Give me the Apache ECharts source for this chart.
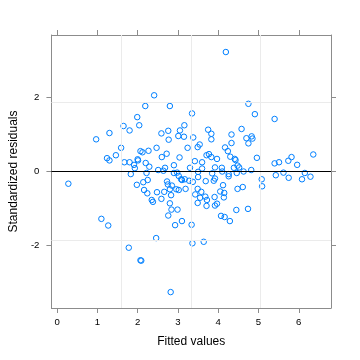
<!DOCTYPE html>
<html>
<head>
<meta charset="utf-8">
<script src="https://cdn.jsdelivr.net/npm/echarts@6/dist/echarts.min.js"></script>
<style>
html,body{margin:0;padding:0;background:#fff;}
#chart{width:360px;height:360px;}
</style>
</head>
<body>
<div id="chart"></div>
<script>
// ---- data ----
const xTicks = [0, 1, 2, 3, 4, 5, 6];
const yTicks = [-2, 0, 2];
const gridX = [1.59, 3.33, 5.04];
const gridY = [-1.86, 1.85];
const refLine = [0];

const fitted = [
  4.19, 2.41, 2.19, 2.80, 3.35, 4.75, 4.91, 5.40, 1.99, 1.65,
  2.04, 1.80, 1.30, 0.97, 2.59, 2.76, 3.05, 3.16, 3.01, 3.15,
  2.77, 3.38, 1.59, 2.07, 2.12, 2.27, 2.47, 3.24, 2.72, 2.60,
  3.04, 1.46, 1.24, 1.30, 1.67, 1.80, 1.91, 1.93, 2.00, 2.01,
  2.20, 2.29, 2.51, 2.64, 2.68, 2.90, 3.75, 3.83, 3.83, 3.49,
  3.54, 4.33, 4.33, 4.58, 4.70, 4.83, 4.85, 4.75, 4.17, 4.24,
  4.30, 4.41, 4.43, 4.96, 3.71, 3.77, 3.83, 3.97, 3.42, 3.60,
  3.30, 3.60, 3.92, 4.09, 4.10, 4.39, 4.48, 4.52, 4.63, 4.82,
  5.40, 5.51, 5.74, 5.82, 5.96, 6.36, 3.85, 4.26, 5.43, 5.62,
  6.15, 6.29, 3.50, 2.22, 1.83, 2.90, 2.98, 3.02, 3.08, 3.10,
  3.17, 3.28, 1.98, 2.14, 2.25, 2.16, 2.24, 2.35, 2.38, 2.48,
  2.59, 2.73, 2.75, 2.85, 2.80, 2.66, 2.83, 2.96, 3.02, 3.19,
  2.80, 2.84, 2.99, 2.76, 2.93, 3.10, 3.34, 3.36, 3.64, 2.46,
  1.78, 2.07, 2.09, 2.82, 0.28, 1.10, 1.27, 3.50, 3.37, 3.69,
  3.92, 3.89, 4.26, 4.46, 4.12, 4.05, 4.15, 4.14, 3.49, 3.58,
  3.43, 3.55, 3.68, 3.72, 3.91, 3.49, 3.71, 3.92, 3.97, 4.48,
  4.61, 5.08, 5.09, 5.75, 6.08, 4.45, 4.74, 4.07, 4.16, 4.29
];
const residuals = [
  3.22, 2.05, 1.76, 1.76, 1.56, 1.82, 1.54, 1.41, 1.46, 1.22,
  1.24, 1.10, 1.03, 0.86, 1.02, 1.09, 1.10, 1.24, 0.95, 0.93,
  0.85, 0.91, 0.63, 0.54, 0.51, 0.55, 0.63, 0.63, 0.47, 0.38,
  0.37, 0.43, 0.35, 0.29, 0.24, 0.24, 0.17, 0.08, 0.32, 0.29,
  0.22, 0.12, 0.03, 0.01, 0.09, 0.16, 1.12, 1.01, 0.86, 0.65,
  0.72, 0.99, 0.76, 1.14, 0.89, 0.94, 0.88, 0.75, 0.64, 0.54,
  0.39, 0.33, 0.30, 0.36, 0.43, 0.46, 0.38, 0.33, 0.27, 0.24,
  0.09, 0.07, 0.10, 0.09, -0.01, 0.09, 0.15, 0.10, -0.01, 0.03,
  0.21, 0.24, 0.28, 0.38, 0.17, 0.45, -0.06, -0.08, -0.11, -0.04,
  -0.05, -0.15, -0.02, -0.05, -0.08, -0.05, -0.04, -0.13, -0.22, -0.24,
  -0.22, -0.26, -0.37, -0.30, -0.24, -0.51, -0.60, -0.78, -0.83, -0.57,
  -0.75, -0.28, -0.36, -0.39, -0.49, -0.56, -0.65, -0.49, -0.51, -0.48,
  -0.87, -1.04, -1.04, -1.20, -1.46, -1.35, -1.45, -1.95, -1.91, -1.81,
  -2.07, -2.41, -2.42, -3.27, -0.34, -1.29, -1.47, -0.16, -0.29, -0.27,
  -0.20, -0.26, -0.14, -0.05, -0.38, -0.55, -0.59, -0.71, -0.48, -0.56,
  -0.63, -0.72, -0.69, -0.78, -0.70, -0.86, -0.94, -0.93, -0.88, -0.48,
  -0.43, -0.22, -0.41, -0.18, -0.22, -1.05, -1.02, -1.21, -1.24, -1.35
];

// ---- chart ----
const points = fitted.map((x, i) => [x, residuals[i]]);
const FONT = 'Liberation Sans, Arial, Helvetica, sans-serif';
const FRAME = '#8c8c8c';
const X_MIN = -0.14, X_MAX = 6.8, Y_MIN = -3.7, Y_MAX = 3.68;

function xAxisCfg(pos, labelled) {
  return {
    type: 'value', position: pos, min: X_MIN, max: X_MAX,
    axisLine: { show: true, onZero: false, lineStyle: { color: FRAME, width: 1 } },
    axisTick: { show: true, customValues: xTicks, length: 5, inside: false, lineStyle: { color: FRAME } },
    axisLabel: { show: labelled, customValues: xTicks, margin: 9, color: '#000', fontSize: 9.6, fontFamily: FONT },
    splitLine: { show: false },
    name: labelled ? 'Fitted values' : '', nameLocation: 'middle', nameGap: 28,
    nameTextStyle: { color: '#000', fontSize: 12, fontFamily: FONT }
  };
}
function yAxisCfg(pos, labelled) {
  return {
    type: 'value', position: pos, min: Y_MIN, max: Y_MAX,
    axisLine: { show: true, onZero: false, lineStyle: { color: FRAME, width: 1 } },
    axisTick: { show: true, customValues: yTicks, length: 5, inside: false, lineStyle: { color: FRAME } },
    axisLabel: { show: labelled, customValues: yTicks, margin: 12, color: '#000', fontSize: 9.6, fontFamily: FONT },
    splitLine: { show: false },
    name: labelled ? 'Standardized residuals' : '', nameLocation: 'middle', nameGap: 29,
    nameTextStyle: { color: '#000', fontSize: 12, fontFamily: FONT }
  };
}

const chart = echarts.init(document.getElementById('chart'), null, { renderer: 'canvas' });
chart.setOption({
  animation: false,
  backgroundColor: '#fff',
  grid: { left: 46, right: 29, top: 35, bottom: 52, containLabel: false },
  xAxis: [xAxisCfg('bottom', true), xAxisCfg('top', false)],
  yAxis: [yAxisCfg('left', true), yAxisCfg('right', false)],
  series: [
    {
      type: 'scatter', data: [], z: 1, silent: true,
      markLine: {
        silent: true, symbol: 'none', label: { show: false }, animation: false,
        lineStyle: { color: '#ebebeb', width: 1, type: 'solid' },
        data: gridX.map(v => ({ xAxis: v })).concat(gridY.map(v => ({ yAxis: v })))
      }
    },
    {
      type: 'scatter', data: points, z: 3,
      symbol: 'circle', symbolSize: 5.5,
      itemStyle: { color: 'rgba(0,0,0,0)', borderColor: '#0080ff', borderWidth: 1, opacity: 1 },
      markLine: {
        silent: true, symbol: 'none', label: { show: false }, animation: false,
        lineStyle: { color: '#000', width: 1, type: 'solid' },
        data: refLine.map(v => ({ yAxis: v }))
      }
    }
  ]
});
</script>
</body>
</html>
